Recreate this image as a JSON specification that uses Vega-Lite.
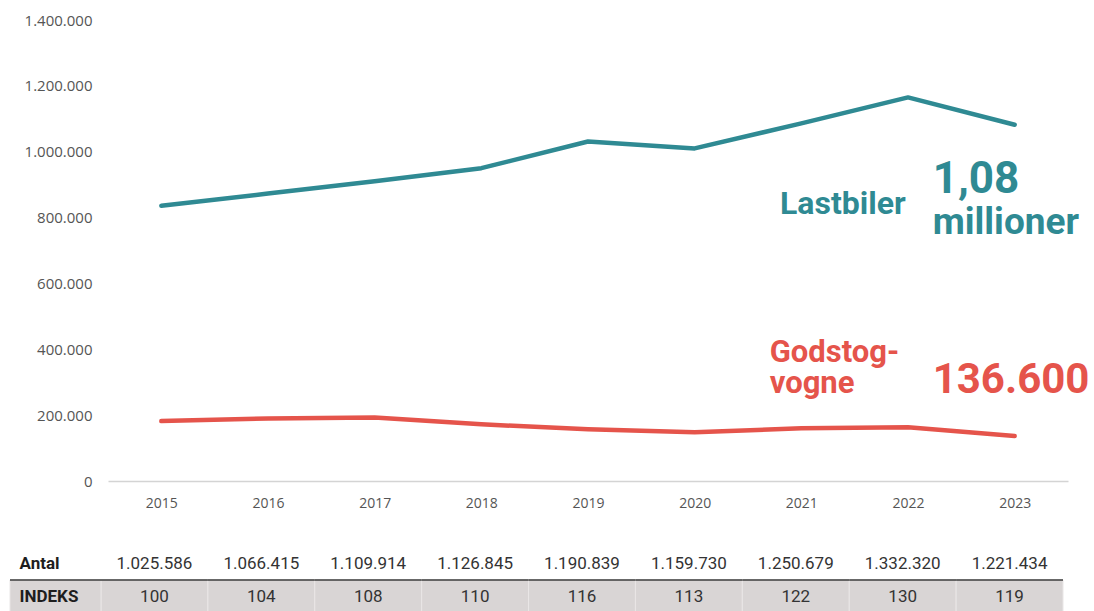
{
  "$schema": "https://vega.github.io/schema/vega-lite/v6.json",
  "padding": {"left": 0, "top": 13, "right": 0, "bottom": 0},
  "background": "white",
  "config": {"view": {"stroke": null}, "concat": {"spacing": 36}},
  "datasets": {
    "series": [
      {"series": "Lastbiler", "year": "2015", "value": 835600},
      {"series": "Lastbiler", "year": "2016", "value": 873000},
      {"series": "Lastbiler", "year": "2017", "value": 910000},
      {"series": "Lastbiler", "year": "2018", "value": 950000},
      {"series": "Lastbiler", "year": "2019", "value": 1031000},
      {"series": "Lastbiler", "year": "2020", "value": 1010000},
      {"series": "Lastbiler", "year": "2021", "value": 1086000},
      {"series": "Lastbiler", "year": "2022", "value": 1165000},
      {"series": "Lastbiler", "year": "2023", "value": 1082000},
      {"series": "Godstogvogne", "year": "2015", "value": 182000},
      {"series": "Godstogvogne", "year": "2016", "value": 190000},
      {"series": "Godstogvogne", "year": "2017", "value": 193000},
      {"series": "Godstogvogne", "year": "2018", "value": 172000},
      {"series": "Godstogvogne", "year": "2019", "value": 157000},
      {"series": "Godstogvogne", "year": "2020", "value": 148000},
      {"series": "Godstogvogne", "year": "2021", "value": 160000},
      {"series": "Godstogvogne", "year": "2022", "value": 163000},
      {"series": "Godstogvogne", "year": "2023", "value": 136600}
    ],
    "ends": [
      {"series": "Lastbiler", "year": "2023", "value": 1082000, "name": "Lastbiler", "big": "1,08", "unit": "millioner"},
      {"series": "Godstogvogne", "year": "2023", "value": 136600, "name": ["Godstog-", "vogne"], "big": "136.600", "unit": ""}
    ],
    "table": [
      {"row": "Antal", "col": "label", "text": "Antal"},
      {"row": "Antal", "col": "2015", "text": "1.025.586"},
      {"row": "Antal", "col": "2016", "text": "1.066.415"},
      {"row": "Antal", "col": "2017", "text": "1.109.914"},
      {"row": "Antal", "col": "2018", "text": "1.126.845"},
      {"row": "Antal", "col": "2019", "text": "1.190.839"},
      {"row": "Antal", "col": "2020", "text": "1.159.730"},
      {"row": "Antal", "col": "2021", "text": "1.250.679"},
      {"row": "Antal", "col": "2022", "text": "1.332.320"},
      {"row": "Antal", "col": "2023", "text": "1.221.434"},
      {"row": "INDEKS", "col": "label", "text": "INDEKS"},
      {"row": "INDEKS", "col": "2015", "text": "100"},
      {"row": "INDEKS", "col": "2016", "text": "104"},
      {"row": "INDEKS", "col": "2017", "text": "108"},
      {"row": "INDEKS", "col": "2018", "text": "110"},
      {"row": "INDEKS", "col": "2019", "text": "116"},
      {"row": "INDEKS", "col": "2020", "text": "113"},
      {"row": "INDEKS", "col": "2021", "text": "122"},
      {"row": "INDEKS", "col": "2022", "text": "130"},
      {"row": "INDEKS", "col": "2023", "text": "119"}
    ]
  },
  "vconcat": [
    {
      "width": 960,
      "height": 461,
      "encoding": {
        "x": {
          "field": "year", "type": "ordinal",
          "scale": {"type": "point", "padding": 0.5},
          "axis": {"title": null, "labelAngle": 0, "labelFont": "Open Sans", "labelFontSize": 14, "labelColor": "#555555", "ticks": false, "domainColor": "#d4d4d4", "domainWidth": 1.5, "labelPadding": 15, "minExtent": 30, "maxExtent": 30}
        },
        "y": {
          "field": "value", "type": "quantitative",
          "scale": {"domain": [0, 1400000], "nice": false},
          "axis": {"title": null, "values": [0, 200000, 400000, 600000, 800000, 1000000, 1200000, 1400000], "labelExpr": "replace(format(datum.value, ','), regexp(',', 'g'), '.')", "ticks": false, "domain": false, "grid": false, "labelFont": "Open Sans", "labelFontSize": 15, "labelColor": "#555555", "labelPadding": 16, "minExtent": 108, "maxExtent": 108}
        },
        "color": {"field": "series", "type": "nominal", "scale": {"domain": ["Lastbiler", "Godstogvogne"], "range": ["#2f8a93", "#e5544b"]}, "legend": null}
      },
      "layer": [
        {
          "data": {"name": "series"},
          "mark": {"type": "line", "strokeWidth": 4.5, "strokeCap": "round", "strokeJoin": "round"}
        },
        {
          "data": {"name": "ends"},
          "transform": [{"filter": "datum.series === 'Lastbiler'"}],
          "mark": {"type": "text", "font": "Roboto", "fontWeight": "bold", "fontSize": 32, "align": "right", "baseline": "alphabetic", "dx": -109, "dy": 89},
          "encoding": {"text": {"field": "name"}}
        },
        {
          "data": {"name": "ends"},
          "transform": [{"filter": "datum.series === 'Lastbiler'"}],
          "mark": {"type": "text", "font": "Roboto", "fontWeight": "bold", "fontSize": 44, "align": "left", "baseline": "alphabetic", "dx": -82, "dy": 68},
          "encoding": {"text": {"field": "big"}}
        },
        {
          "data": {"name": "ends"},
          "transform": [{"filter": "datum.series === 'Lastbiler'"}],
          "mark": {"type": "text", "font": "Roboto", "fontWeight": "bold", "fontSize": 37, "align": "left", "baseline": "alphabetic", "dx": -82, "dy": 109},
          "encoding": {"text": {"field": "unit"}}
        },
        {
          "data": {"name": "ends"},
          "transform": [{"filter": "datum.series === 'Godstogvogne'"}],
          "mark": {"type": "text", "font": "Roboto", "fontWeight": "bold", "fontSize": 31, "lineHeight": 31, "align": "left", "baseline": "alphabetic", "dx": -245, "dy": -74},
          "encoding": {"text": {"field": "name"}}
        },
        {
          "data": {"name": "ends"},
          "transform": [{"filter": "datum.series === 'Godstogvogne'"}],
          "mark": {"type": "text", "font": "Roboto", "fontWeight": "bold", "fontSize": 42, "align": "left", "baseline": "alphabetic", "dx": -82, "dy": -43},
          "encoding": {"text": {"field": "big"}}
        }
      ]
    },
    {
      "width": 960,
      "height": 66,
      "data": {"name": "table"},
      "resolve": {"scale": {"x": "independent"}},
      "layer": [
        {
          "transform": [{"filter": "datum.row === 'INDEKS' && datum.col !== 'label'"}],
          "mark": {"type": "rect", "fill": "#d9d5d5", "stroke": "#e9e6e6", "strokeWidth": 1, "clip": false},
          "encoding": {
            "x": {"field": "col", "type": "ordinal", "scale": {"domain": ["2015", "2016", "2017", "2018", "2019", "2020", "2021", "2022", "2023"], "range": [-7, 955], "paddingInner": 0, "paddingOuter": 0}, "axis": null},
            "y": {"field": "row", "type": "ordinal", "scale": {"domain": ["Antal", "INDEKS"], "paddingInner": 0, "paddingOuter": 0}, "axis": null}
          }
        },
        {
          "transform": [{"filter": "datum.row === 'INDEKS' && datum.col === 'label'"}],
          "mark": {"type": "rect", "fill": "#d9d5d5", "stroke": "#e9e6e6", "strokeWidth": 1, "clip": false},
          "encoding": {
            "x": {"field": "col", "type": "ordinal", "scale": {"domain": ["label"], "range": [-98, -7], "paddingInner": 0, "paddingOuter": 0}, "axis": null},
            "y": {"field": "row", "type": "ordinal", "axis": null}
          }
        },
        {
          "transform": [{"filter": "datum.row === 'INDEKS' && datum.col !== 'label'"}],
          "mark": {"type": "rule", "color": "#3a3a3a", "strokeWidth": 1.5},
          "encoding": {
            "x": {"field": "col", "type": "ordinal", "bandPosition": 0, "scale": {"domain": ["2015", "2016", "2017", "2018", "2019", "2020", "2021", "2022", "2023"], "range": [-7, 955], "paddingInner": 0, "paddingOuter": 0}, "axis": null},
            "x2": {"field": "col", "bandPosition": 1},
            "y": {"field": "row", "type": "ordinal", "bandPosition": 0, "axis": null}
          }
        },
        {
          "transform": [{"filter": "datum.row === 'INDEKS' && datum.col === 'label'"}],
          "mark": {"type": "rule", "color": "#3a3a3a", "strokeWidth": 1.5},
          "encoding": {
            "x": {"field": "col", "type": "ordinal", "bandPosition": 0, "scale": {"domain": ["label"], "range": [-98, -7], "paddingInner": 0, "paddingOuter": 0}, "axis": null},
            "x2": {"field": "col", "bandPosition": 1},
            "y": {"field": "row", "type": "ordinal", "bandPosition": 0, "axis": null}
          }
        },
        {
          "transform": [{"filter": "datum.col === 'label'"}],
          "mark": {"type": "text", "font": "Roboto", "fontWeight": "bold", "fontSize": 17, "align": "left", "baseline": "middle", "dx": -36, "color": "#1e1e1e"},
          "encoding": {
            "x": {"field": "col", "type": "ordinal", "scale": {"domain": ["label"], "range": [-98, -7], "paddingInner": 0, "paddingOuter": 0}, "axis": null},
            "y": {"field": "row", "type": "ordinal", "axis": null},
            "text": {"field": "text"}
          }
        },
        {
          "transform": [{"filter": "datum.col !== 'label'"}],
          "mark": {"type": "text", "font": "Roboto", "fontSize": 17, "align": "center", "baseline": "middle", "color": "#333333"},
          "encoding": {
            "x": {"field": "col", "type": "ordinal", "scale": {"domain": ["2015", "2016", "2017", "2018", "2019", "2020", "2021", "2022", "2023"], "range": [-7, 955], "paddingInner": 0, "paddingOuter": 0}, "axis": null},
            "y": {"field": "row", "type": "ordinal", "axis": null},
            "text": {"field": "text"}
          }
        }
      ]
    }
  ]
}
